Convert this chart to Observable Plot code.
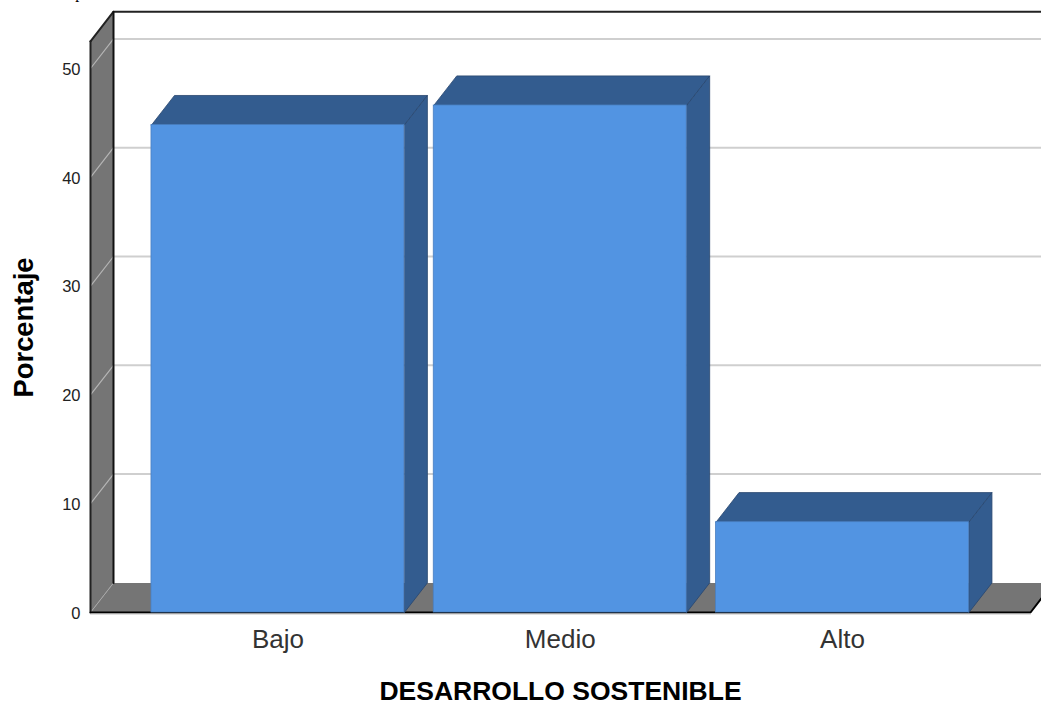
<!DOCTYPE html>
<html>
<head>
<meta charset="utf-8">
<script src="https://cdn.jsdelivr.net/npm/d3@7"></script>
<script src="https://cdn.jsdelivr.net/npm/@observablehq/plot@0.6"></script>
<style>html,body{margin:0;padding:0;background:#fff;overflow:hidden}</style>
</head>
<body>
<div id="chart"></div>
<script>
const categories = ["Bajo", "Medio", "Alto"];
const porcentaje = [44.8, 46.6, 8.3];
const yTicks = [0, 10, 20, 30, 40, 50];
const gridValues = [10, 20, 30, 40, 50];
const xTitle = "DESARROLLO SOSTENIBLE";
const yTitle = "Porcentaje";

const depthX = 0.0815, depthY = 2.72;
const xMin = -0.664, xMax = 2.666, yTop = 52.5, halfBar = 0.448;
const wallColor = "#757575", dark = "#335c8f", blue = "#5294e2", gridColor = "#cfcfcf";
const font = "Liberation Sans, Arial, sans-serif";

const poly = (pts, fill, extra = {}) =>
  Plot.line(pts, {x: "0", y: "1", fill, stroke: "none", curve: "linear-closed", ...extra});
const seg = (pts, stroke, strokeWidth) =>
  Plot.line(pts, {x: "0", y: "1", stroke, strokeWidth});

const barMarks = porcentaje.flatMap((v, i) => {
  const l = i - halfBar, r = i + halfBar;
  return [
    poly([[l, v], [l + depthX, v + depthY], [r + depthX, v + depthY], [r, v]], dark,
      {stroke: "#28466e", strokeWidth: 0.8}),
    poly([[r, 0], [r + depthX, depthY], [r + depthX, v + depthY], [r, v]], dark,
      {stroke: "#28466e", strokeWidth: 0.8}),
    Plot.rect([{x1: l, x2: r, y1: 0, y2: v}], {x1: "x1", x2: "x2", y1: "y1", y2: "y2",
      fill: blue, stroke: "#4a7fc0", strokeWidth: 0.8})
  ];
});

const chart = Plot.plot({
  width: 1041,
  height: 705,
  marginLeft: 90,
  marginRight: 11,
  marginTop: 12,
  marginBottom: 93,
  style: {background: "#fff", fontFamily: font},
  x: {type: "linear", domain: [xMin, xMax], range: [90, 1030]},
  y: {type: "linear", domain: [0, 50], range: [612, 68]},
  marks: [
    ...gridValues.map(g => seg([[xMin + depthX, g + depthY], [xMax + depthX, g + depthY]], gridColor, 2)),
    poly([[xMin, 0], [xMin + depthX, depthY], [xMax + depthX, depthY], [xMax, 0]], wallColor),
    poly([[xMin, 0], [xMin + depthX, depthY], [xMin + depthX, yTop + depthY], [xMin, yTop]], wallColor),
    ...gridValues.map(g => seg([[xMin, g], [xMin + depthX, g + depthY]], "#b5b5b5", 1.2)),
    seg([[xMin, 0], [xMin + depthX, depthY]], "#a8a8a8", 1),
    seg([[xMin, yTop], [xMin + depthX, yTop + depthY], [xMax + depthX, yTop + depthY]], "#222", 2),
    seg([[xMin, 0], [xMin, yTop]], "#222", 2),
    seg([[xMin + depthX, depthY], [xMin + depthX, yTop + depthY]], "#111", 2),
    seg([[xMin, 0], [xMax, 0], [xMax + depthX, depthY]], "#000", 2),
    ...barMarks,
    seg([[xMin, -0.14], [xMax, -0.14]], "#c4c4c4", 1),
    Plot.axisY({ticks: yTicks, tickSize: 0, tickPadding: 10, dy: 1, label: null, fontSize: 16.5, fill: "#222", anchor: "left"}),
    Plot.axisX({ticks: [0, 1, 2], tickFormat: i => categories[i], tickSize: 0, tickPadding: 17,
      label: null, fontSize: 26, fill: "#333", anchor: "bottom"}),
    Plot.text([xTitle], {text: d => d, frameAnchor: "bottom", dy: 87, fontSize: 26.5, fontWeight: "bold",
      fill: "#000", lineAnchor: "bottom", textAnchor: "middle"}),
    Plot.text([yTitle], {text: d => d, frameAnchor: "left", dx: -66, dy: 15, rotate: -90, fontSize: 27.4,
      fontWeight: "bold", fill: "#000", textAnchor: "middle"}),
    Plot.text(["p"], {text: d => d, x: [xMin - 0.04], y: [56.5], fontFamily: "Liberation Serif", fontSize: 16,
      fill: "#000", lineAnchor: "bottom"})
  ]
});
document.getElementById("chart").appendChild(chart);
</script>
</body>
</html>
